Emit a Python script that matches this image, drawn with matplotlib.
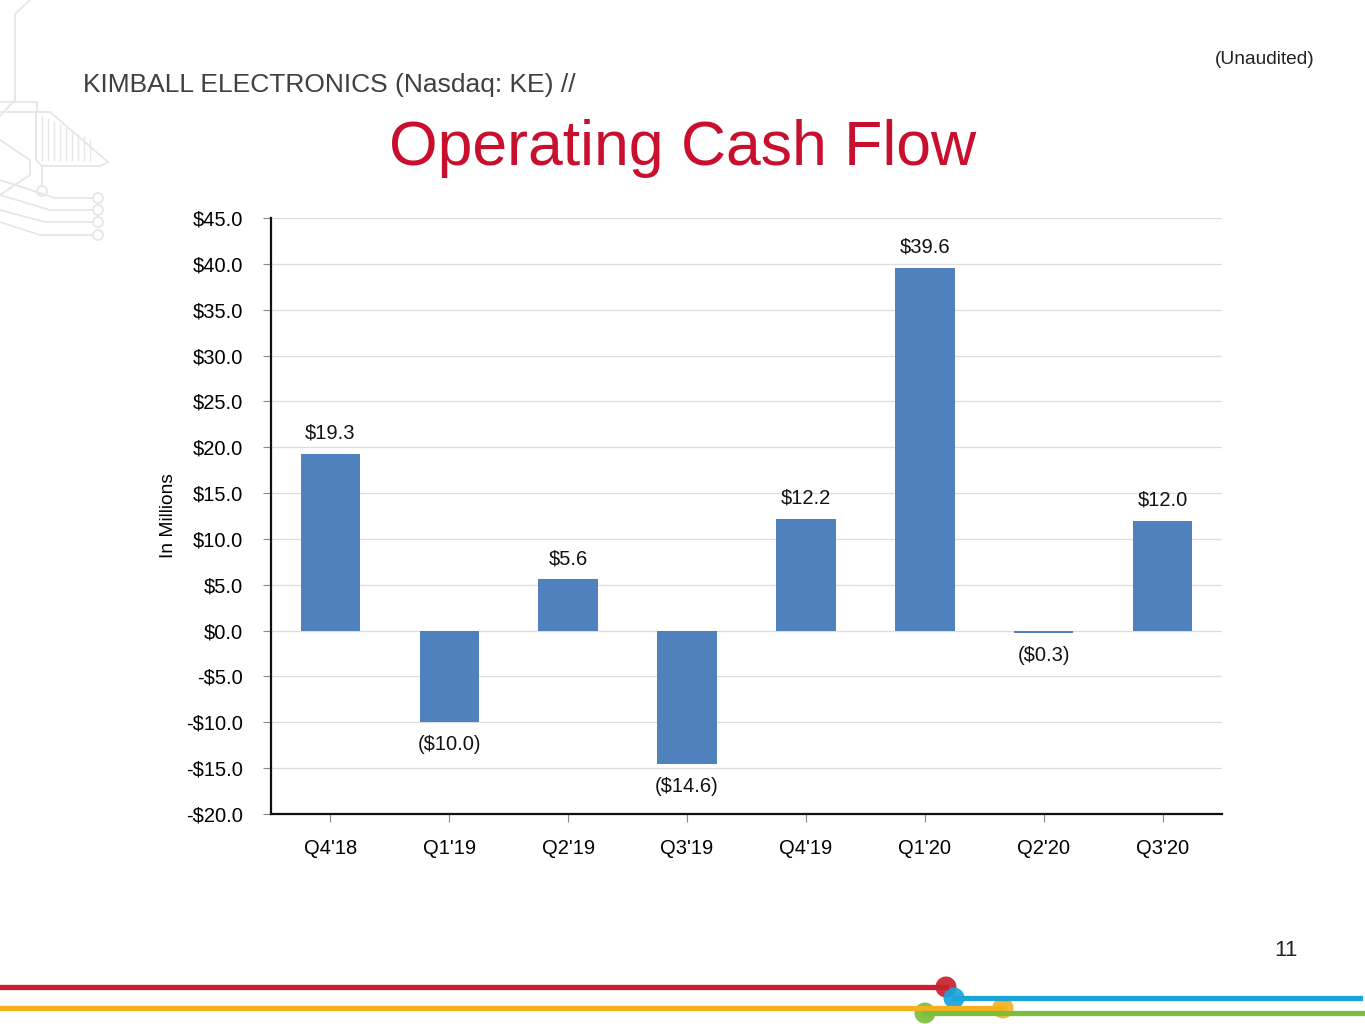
import matplotlib.pyplot as plt
from matplotlib.lines import Line2D
from matplotlib.patches import Circle

# Operating cash flow by quarter, in millions
quarters = ["Q4'18", "Q1'19", "Q2'19", "Q3'19", "Q4'19", "Q1'20", "Q2'20", "Q3'20"]
cash_flow = [19.3, -10.0, 5.6, -14.6, 12.2, 39.6, -0.3, 12.0]
y_ticks = [-20, -15, -10, -5, 0, 5, 10, 15, 20, 25, 30, 35, 40, 45]

plt.rcParams['font.family'] = ['Liberation Sans', 'DejaVu Sans']

W, H = 1365, 1024
fig = plt.figure(figsize=(W / 100, H / 100), dpi=100)


def px(x, y):
    """pixel position (from top-left) to figure fraction"""
    return x / W, 1 - y / H


def dot(x, y, r, **kw):
    # circle in inches so it stays round
    return Circle((x / 100, (H - y) / 100), r / 100, transform=fig.dpi_scale_trans, **kw)


# faint circuit decoration, top left
deco = '#e6e6e6'
paths = [
    [(30, 0), (15, 14), (15, 100), (0, 116)],
    [(0, 102), (37, 102), (37, 112), (0, 112)],
    [(36, 112), (50, 112), (108, 162), (100, 166), (42, 166), (36, 160), (36, 112)],
    [(42, 166), (42, 186)],
    [(0, 140), (30, 160), (30, 175), (0, 195)],
    [(0, 180), (55, 198), (92, 198)],
    [(0, 195), (50, 210), (92, 210)],
    [(0, 210), (45, 222), (92, 222)],
    [(0, 222), (40, 235), (92, 235)],
]
for p in paths:
    xs, ys = zip(*[px(*q) for q in p])
    fig.add_artist(Line2D(xs, ys, color=deco, lw=1.3))
for i in range(9):
    x0 = 42 + i * 6
    xs, ys = zip(px(x0, 116 + i * 3), px(x0, 160))
    fig.add_artist(Line2D(xs, ys, color=deco, lw=1.0))
for c in [(42, 191), (98, 198), (98, 210), (98, 222), (98, 235)]:
    fig.add_artist(dot(*c, 5, fill=False, ec=deco, lw=1.3))

# header texts
fig.text(83 / W, 1 - 85 / H, 'KIMBALL ELECTRONICS (Nasdaq: KE) //', fontsize=19,
         color='#404040', va='center', ha='left')
fig.text(1315 / W, 1 - 59 / H, '(Unaudited)', fontsize=13.8, color='#222222',
         va='center', ha='right')
fig.text(683 / W, 1 - 149 / H, 'Operating Cash Flow', fontsize=45,
         color='#C8102E', va='center', ha='center')
fig.text(1298 / W, 1 - 950 / H, '11', fontsize=16, color='#222222',
         va='center', ha='right')

# chart
ax = fig.add_axes([271 / W, 1 - 814 / H, (1222 - 271) / W, (814 - 218) / H])
x = range(len(quarters))
bars = ax.bar(x, cash_flow, width=0.5, color='#4F81BD', zorder=3)

for xi, v in zip(x, cash_flow):
    label = f'${v:.1f}' if v >= 0 else f'(${abs(v):.1f})'
    if v >= 0:
        ax.annotate(label, (xi, v), xytext=(0, 8), textcoords='offset points',
                    ha='center', va='bottom', fontsize=14.5, color='#111111')
    else:
        ax.annotate(label, (xi, v), xytext=(0, -9), textcoords='offset points',
                    ha='center', va='top', fontsize=14.5, color='#111111')

ax.set_ylim(-20, 45)
ax.set_xlim(-0.5, len(quarters) - 0.5)
ax.set_yticks(y_ticks)
ax.set_yticklabels([f'${t:.1f}' if t >= 0 else f'-${abs(t):.1f}' for t in y_ticks])
ax.set_xticks(list(x))
ax.set_xticklabels(quarters)
ax.tick_params(axis='y', labelsize=14.5, length=6, width=0.8, color='#888888', pad=14)
ax.tick_params(axis='x', labelsize=14.5, length=6, width=0.8, color='#888888', pad=12)
ax.yaxis.grid(True, color='#dddddd', lw=0.9, zorder=0)
ax.set_axisbelow(True)
for side in ['top', 'right']:
    ax.spines[side].set_visible(False)
for side in ['left', 'bottom']:
    ax.spines[side].set_linewidth(1.6)
    ax.spines[side].set_color('#111111')
ax.set_ylabel('In Millions', fontsize=13.8, labelpad=7)

# bottom accent lines
accents = [
    ('#C8202E', (0, 987), (946, 987), (946, 987)),
    ('#1BA3DB', (954, 998), (1360, 998), (954, 998)),
    ('#F5B01E', (0, 1008), (1003, 1008), (1003, 1008)),
    ('#7BBE3B', (925, 1013), (1365, 1013), (925, 1013)),
]
for col, a, b, c in accents:
    xs, ys = zip(px(*a), px(*b))
    fig.add_artist(Line2D(xs, ys, color=col, lw=3.8))
    fig.add_artist(dot(*c, 10.5, color=col, alpha=0.92, ec='none'))

fig.savefig('out.png', dpi=100)
